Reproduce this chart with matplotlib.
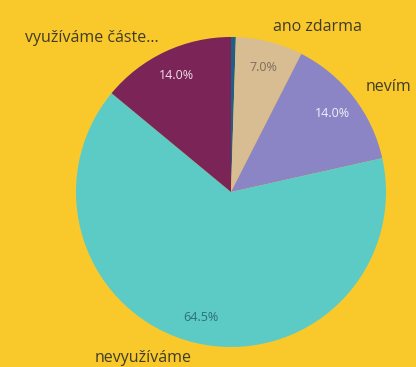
import matplotlib.pyplot as plt

labels = ['', 'ano zdarma', 'nevím', 'nevyužíváme', 'využíváme částe…']
values = [0.5, 7.0, 14.0, 64.5, 14.0]
colors = ['#1f5f86', '#d9bd92', '#8b85c6', '#5ccbc5', '#7a2458']
pct_colors = ['#1f5f86', '#7a6e5c', '#f2f0fa', '#2f6f78', '#f0dde8']


def pct_text(p):
    return '%.1f%%' % p if p >= 1 else ''


def main():
    fig = plt.figure(figsize=(4.16, 3.67), dpi=100)
    fig.patch.set_facecolor('#f9c92c')
    ax = fig.add_axes([0, 0, 1, 1])
    ax.set_facecolor('#f9c92c')

    wedges, texts, autotexts = ax.pie(
        values, labels=labels, colors=colors, startangle=90, counterclock=False,
        autopct=pct_text, pctdistance=0.83, labeldistance=1.1,
        wedgeprops={'linewidth': 0},
        textprops={'fontfamily': 'Open Sans'})

    for t in texts:
        t.set_fontsize(11.5)
        t.set_color('#403c28')
    for t, c in zip(autotexts, pct_colors):
        t.set_fontsize(9)
        t.set_color(c)

    # pie centre at (231, 192) px, radius 155 px
    ax.set_xlim(-231 / 155, (416 - 231) / 155)
    ax.set_ylim(-(367 - 192) / 155, 192 / 155)
    ax.set_aspect('auto')
    ax.axis('off')
    fig.savefig('out.png', dpi=100, facecolor=fig.get_facecolor())


if __name__ == "__main__":
    main()
